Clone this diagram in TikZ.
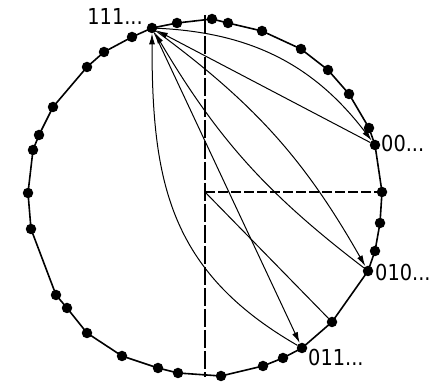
\documentclass[tikz,border=0pt]{standalone}
\usepackage{fontspec}
\newfontfamily\labfont[FakeStretch=0.88]{DejaVu Sans}
\usetikzlibrary{arrows.meta}

\begin{document}
\begin{tikzpicture}[x=1pt, y=1pt, line cap=round, line join=round,
	dot/.style={circle, fill=black, inner sep=0pt, minimum size=10.5pt},
	rim/.style={line width=1.6pt},
	guide/.style={line width=1.2pt, line cap=butt, dash pattern=on 10pt off 3pt},
	link/.style={line width=1pt, -{Latex[length=11pt, width=6pt]}},
	lab/.style={font=\labfont\fontsize{22}{26}\selectfont, inner sep=0pt}]
	\useasboundingbox (0,0) rectangle (432,386);

	% Точки на окружности
	\foreach \px/\py [count=\i] in {152/358, 177/363, 212/367, 228/363, 262/355,
		301/337, 328/316, 349/292, 369/258, 375/241, 382/194, 380/163, 375/135,
		368/115, 332/64, 302/38, 283/28, 263/20, 221/10, 178/13, 158/18, 122/30,
		87/53, 67/78, 56/91, 31/157, 28/193, 33/236, 39/251, 53/279, 87/319,
		104/334, 132/349} {
		\node[dot] (p\i) at (\px,\py) {};
	}

	% Окружность: ломаная через точки
	\draw[rim] (p1.center) \foreach \i in {2,...,33} {-- (p\i.center)} -- cycle;

	% Радиусы
	\coordinate (c) at (205,194);
	\coordinate (top) at (205,371);
	\coordinate (bot) at (205,9);
	\draw[guide, dash pattern=on 18pt off 3pt] (top) -- (bot);
	\draw[guide] (c) -- (p11.center);
	\draw[line width=1pt] (c) -- (p15);

	% Переходы из 111... и обратно
	\draw[link] (p1) to[bend left=25] (p10);
	\draw[link] (p10) -- (p1);
	\draw[link] (p1) to[bend left=12] (p14);
	\draw[link] (p14) to[bend left=11] (p1);
	\draw[link] (p1) -- (p16);
	\draw[link] (p16) to[out=150, in=-90, looseness=1.1] (p1);

	% Подписи
	\node[lab, anchor=base east] (t111) at (143,361) {111...};
	\node[lab, anchor=base west] (t00) at (381,234) {00...};
	\node[lab, anchor=base west] (t010) at (375,105) {010...};
	\node[lab, anchor=base west] (t011) at (308,20) {011...};
\end{tikzpicture}
\end{document}
